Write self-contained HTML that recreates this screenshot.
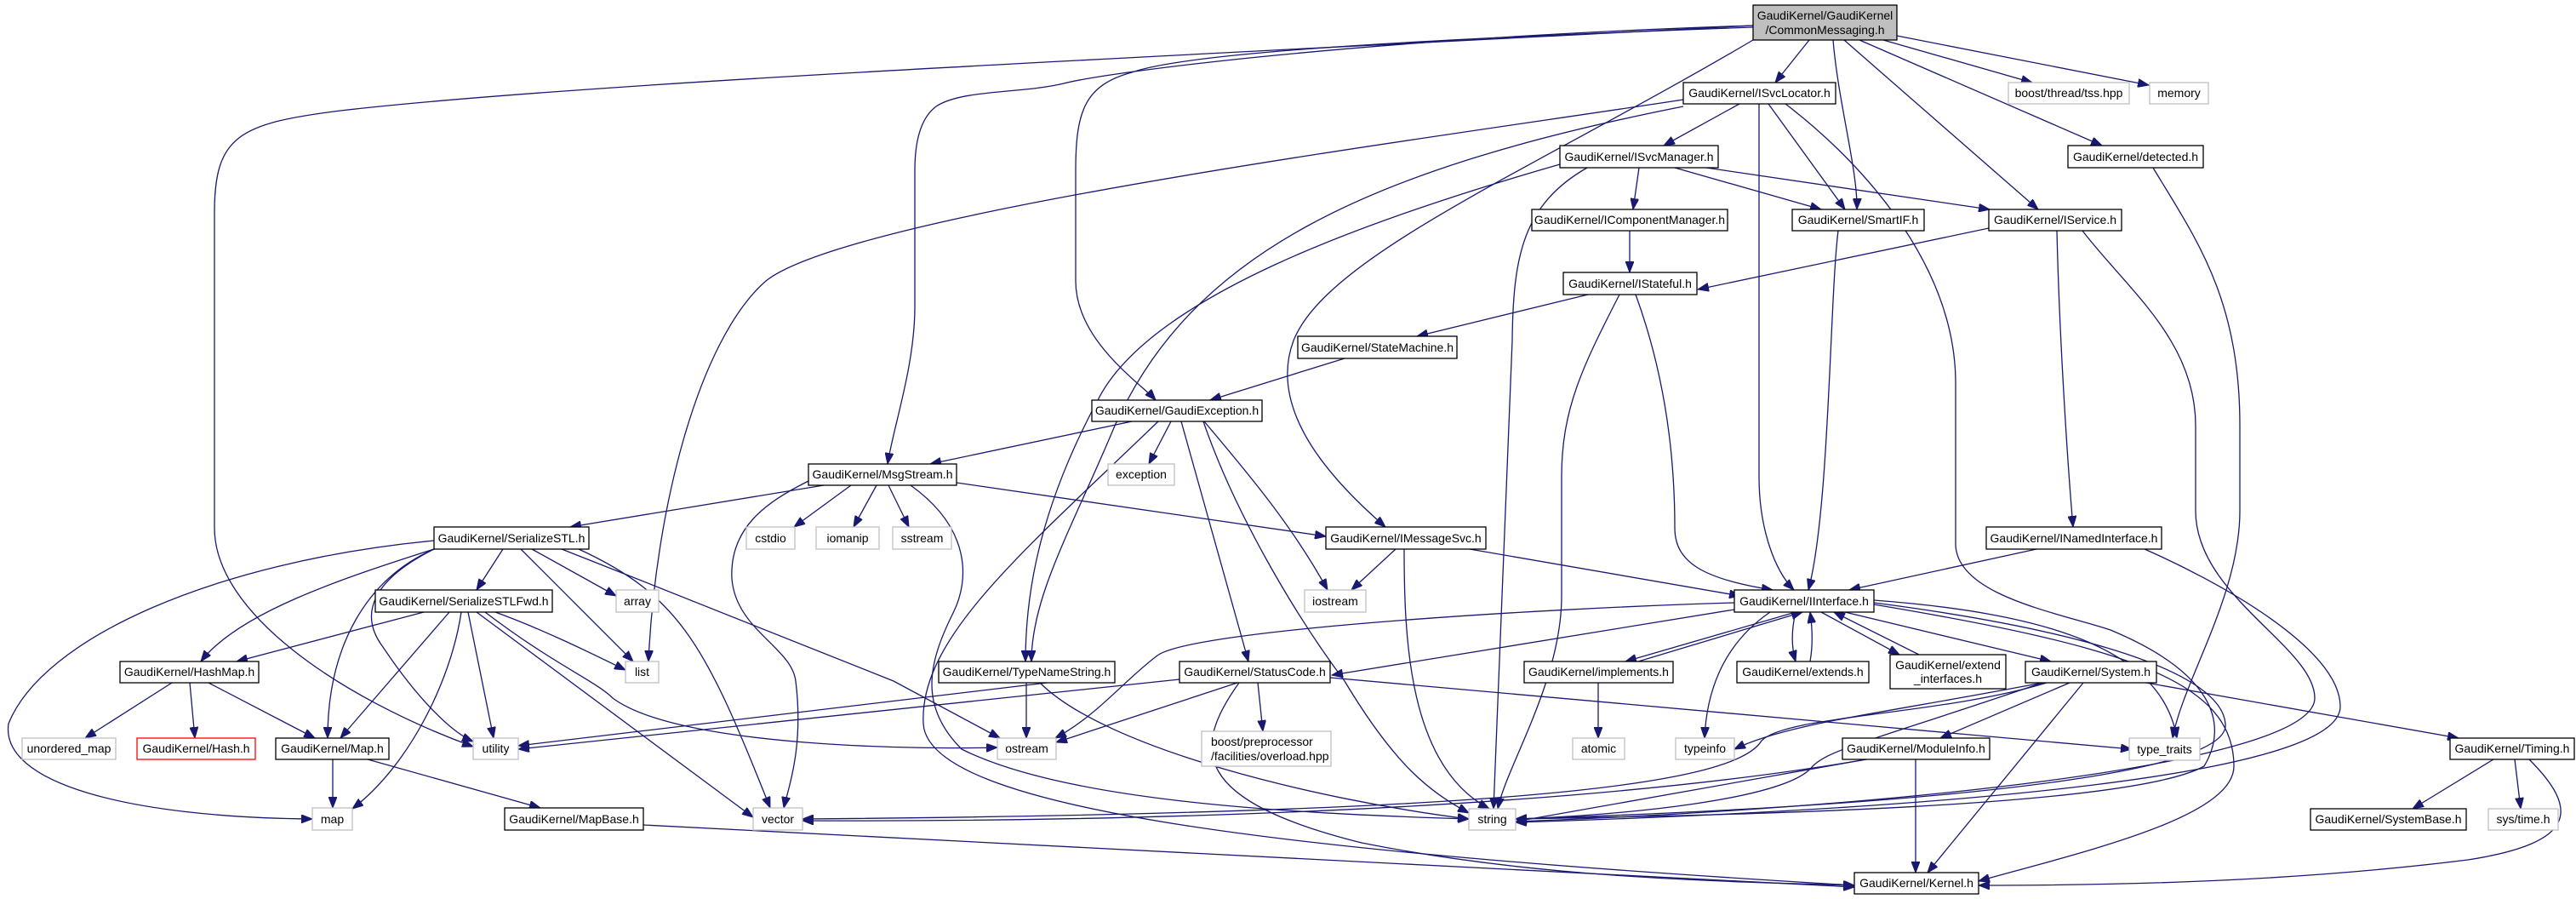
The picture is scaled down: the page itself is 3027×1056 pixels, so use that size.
<!DOCTYPE html>
<html><head><meta charset="utf-8"><style>
html,body{margin:0;padding:0;background:#fff;}
svg{display:block;}
text{font-family:"Liberation Sans",sans-serif;font-size:14px;fill:#000;}
.n{fill:#fff;stroke:#000;stroke-width:1.3;}
.g{fill:#fff;stroke:#bfbfbf;stroke-width:1.3;}
.r{fill:#fff;stroke:#ff0000;stroke-width:1.3;}
.e path{fill:none;stroke:#191970;stroke-width:1.3;marker-end:url(#a);}
</style></head><body>
<svg width="3027" height="1056" viewBox="0 0 3027 1056" xmlns="http://www.w3.org/2000/svg">
<defs><marker id="a" markerUnits="userSpaceOnUse" markerWidth="14" markerHeight="10" refX="13" refY="5" orient="auto"><path d="M0,0 L13,5 L0,10 z" fill="#191970" stroke="#191970"/></marker></defs>
<g class="e">
<path d="M2126,47 L2086,97"/>
<path d="M2154,47 C2160,120 2183,200 2182,246"/>
<path d="M2167,47 L2395,246"/>
<path d="M2185,47 L2470,171"/>
<path d="M2213,47 L2388,97"/>
<path d="M2229,42 L2525,100"/>
<path d="M2060,47 C1800,200 1560,300 1520,400 C1490,480 1560,560 1628,619"/>
<path d="M2060,32 C1700,45 1400,60 1330,85 C1275,100 1264,130 1264,200 L1264,330 C1264,400 1340,450 1358,470"/>
<path d="M2060,30 C1600,45 1300,85 1250,98 C1200,110 1130,105 1100,125 C1080,140 1075,170 1075,200 L1075,360 C1075,430 1050,500 1043,545"/>
<path d="M2060,30 C1500,60 700,95 400,130 C280,145 252,160 252,250 L252,620 C252,720 400,820 556,877"/>
<path d="M2044,122 L1955,171"/>
<path d="M2078,122 L2168,246"/>
<path d="M2067,122 L2067,560 C2067,620 2085,670 2108,693"/>
<path d="M2098,122 C2200,200 2298,320 2298,450 L2298,640 C2300,700 2420,720 2480,740 C2600,790 2620,850 2590,900 C2500,950 2000,958 1781,962"/>
<path d="M1978,117 C1700,160 1000,250 900,330 C820,400 770,600 762,777"/>
<path d="M1978,125 C1600,200 1400,300 1310,500 C1260,620 1212,700 1212,777"/>
<path d="M1833,193 C1600,260 1350,350 1290,470 C1220,600 1205,700 1205,777"/>
<path d="M1926,197 L1919,246"/>
<path d="M1968,197 L2140,246"/>
<path d="M2005,197 L2338,246"/>
<path d="M1865,197 C1790,240 1778,300 1777,400 L1755,950"/>
<path d="M1915,271 L1915,320"/>
<path d="M2160,271 C2150,350 2150,600 2125,693"/>
<path d="M2337,268 L1995,340"/>
<path d="M2417,271 C2420,400 2430,550 2436,619"/>
<path d="M2447,271 C2500,340 2580,400 2580,500 L2580,600 C2580,700 2720,760 2720,820 C2720,900 2200,950 1781,965"/>
<path d="M2530,197 C2580,280 2632,350 2632,500 L2632,600 C2632,700 2565,800 2553,867"/>
<path d="M1866,346 L1665,395"/>
<path d="M1922,346 C1960,450 1968,550 1968,620 C1968,660 2000,680 2083,693"/>
<path d="M1903,346 C1860,430 1835,480 1835,560 L1835,700 C1835,800 1770,900 1760,950"/>
<path d="M1580,421 L1422,470"/>
<path d="M1330,495 L1093,545"/>
<path d="M1376,495 L1350,545"/>
<path d="M1415,495 C1470,560 1520,620 1560,693"/>
<path d="M1414,495 C1450,600 1520,720 1580,800 C1640,900 1680,930 1726,955"/>
<path d="M1388,495 L1467,777"/>
<path d="M1361,495 C1200,650 1080,750 1085,850 C1090,950 1500,1000 2179,1040"/>
<path d="M968,570 L670,619"/>
<path d="M1000,570 L933,619"/>
<path d="M1030,570 L1003,619"/>
<path d="M1044,570 L1068,619"/>
<path d="M1124,567 L1558,630"/>
<path d="M950,565 C900,590 857,620 860,680 C865,740 930,760 935,800 C945,880 925,930 921,949"/>
<path d="M1070,570 C1140,620 1140,680 1120,720 C1090,780 1080,830 1130,880 C1250,940 1500,955 1726,962"/>
<path d="M1640,645 L1588,693"/>
<path d="M1727,645 L2045,700"/>
<path d="M1650,645 C1650,750 1655,900 1750,950"/>
<path d="M2393,645 L2173,693"/>
<path d="M2520,645 C2600,680 2750,760 2750,830 C2750,910 2300,950 1781,966"/>
<path d="M2038,716 L1565,793"/>
<path d="M2038,708 C1800,715 1400,740 1360,770 C1320,800 1290,840 1240,867"/>
<path d="M2110,719 L1910,777"/>
<path d="M1925,777 L2118,719"/>
<path d="M2110,719 C2105,740 2105,760 2110,777"/>
<path d="M2127,777 C2130,760 2130,740 2127,719"/>
<path d="M2140,719 L2232,769"/>
<path d="M2255,769 L2155,719"/>
<path d="M2168,719 L2410,777"/>
<path d="M2080,719 C2020,760 2005,820 2003,867"/>
<path d="M2202,705 C2400,720 2540,760 2558,867"/>
<path d="M2202,708 C2450,740 2610,790 2615,850 C2625,930 2000,955 1781,962"/>
<path d="M2202,710 C2500,760 2625,800 2625,900 C2625,960 2450,1000 2325,1035"/>
<path d="M1878,802 L1878,867"/>
<path d="M2400,802 C2200,840 2100,850 2038,880"/>
<path d="M2432,802 L2280,867"/>
<path d="M2448,802 L2265,1025"/>
<path d="M2522,802 L2889,867"/>
<path d="M2405,802 C2280,840 2100,840 2070,870 C2040,920 1800,955 943,962"/>
<path d="M2400,802 C2200,870 2150,880 2130,900 C2100,940 1900,958 1781,962"/>
<path d="M2251,892 L2251,1025"/>
<path d="M2193,892 L1781,965"/>
<path d="M2193,892 C1800,960 1200,965 943,964"/>
<path d="M1454,802 L1241,872"/>
<path d="M1386,798 L609,880"/>
<path d="M1230,802 L609,876"/>
<path d="M1478,802 L1484,859"/>
<path d="M1456,802 C1400,880 1400,940 1600,990 C1800,1030 2000,1035 2179,1040"/>
<path d="M1563,796 L2505,880"/>
<path d="M1206,802 L1206,867"/>
<path d="M1222,802 C1300,880 1550,940 1726,962"/>
<path d="M2930,892 L2835,950"/>
<path d="M2955,892 L2962,950"/>
<path d="M2972,892 C3030,950 3030,990 2900,1010 C2700,1035 2500,1040 2325,1040"/>
<path d="M756,969 C1500,1010 1900,1030 2179,1042"/>
<path d="M591,645 L560,693"/>
<path d="M625,645 L724,700"/>
<path d="M612,645 L744,777"/>
<path d="M510,645 C400,680 280,720 236,777"/>
<path d="M510,645 C430,680 385,760 385,867"/>
<path d="M510,645 C440,680 420,720 450,760 C490,820 530,860 556,871"/>
<path d="M510,635 C250,660 50,750 10,850 C0,920 150,960 367,962"/>
<path d="M680,645 C800,700 830,760 905,949"/>
<path d="M660,645 C800,700 950,760 1050,800 L1175,867"/>
<path d="M498,719 L278,777"/>
<path d="M528,719 L400,867"/>
<path d="M550,719 L580,867"/>
<path d="M542,719 C530,800 480,900 414,950"/>
<path d="M560,719 L885,960"/>
<path d="M582,719 C640,740 700,770 735,787"/>
<path d="M570,719 C650,780 700,800 720,820 C800,880 1100,880 1172,878"/>
<path d="M202,802 L100,867"/>
<path d="M223,802 L229,867"/>
<path d="M245,802 L370,867"/>
<path d="M391,892 L391,949"/>
<path d="M432,892 L635,949"/>
</g>
<g>
<rect x="2060" y="6" width="169" height="41" fill="#bfbfbf" stroke="#000" stroke-width="1.3"/>
<text x="2144.5" y="23" text-anchor="middle">GaudiKernel/GaudiKernel</text>
<text x="2144.5" y="40" text-anchor="middle">/CommonMessaging.h</text>

<rect class="n" x="1978" y="97" width="179" height="25"/><text x="2067.5" y="114" text-anchor="middle">GaudiKernel/ISvcLocator.h</text>
<rect class="g" x="2360" y="97" width="142" height="25"/><text x="2431" y="114" text-anchor="middle">boost/thread/tss.hpp</text>
<rect class="g" x="2526" y="97" width="69" height="25"/><text x="2560.5" y="114" text-anchor="middle">memory</text>
<rect class="n" x="1833" y="171" width="186" height="26"/><text x="1926" y="189" text-anchor="middle">GaudiKernel/ISvcManager.h</text>
<rect class="n" x="2430" y="171" width="159" height="26"/><text x="2509.5" y="189" text-anchor="middle">GaudiKernel/detected.h</text>
<rect class="n" x="1800" y="246" width="230" height="25"/><text x="1915" y="263" text-anchor="middle">GaudiKernel/IComponentManager.h</text>
<rect class="n" x="2106" y="246" width="155" height="25"/><text x="2183.5" y="263" text-anchor="middle">GaudiKernel/SmartIF.h</text>
<rect class="n" x="2337" y="246" width="156" height="25"/><text x="2415" y="263" text-anchor="middle">GaudiKernel/IService.h</text>
<rect class="n" x="1837" y="320" width="157" height="26"/><text x="1915.5" y="338" text-anchor="middle">GaudiKernel/IStateful.h</text>
<rect class="n" x="1525" y="395" width="187" height="26"/><text x="1618.5" y="413" text-anchor="middle">GaudiKernel/StateMachine.h</text>
<rect class="n" x="1283" y="470" width="200" height="25"/><text x="1383" y="487" text-anchor="middle">GaudiKernel/GaudiException.h</text>
<rect class="n" x="950" y="545" width="174" height="25"/><text x="1037" y="562" text-anchor="middle">GaudiKernel/MsgStream.h</text>
<rect class="g" x="1302" y="545" width="78" height="25"/><text x="1341" y="562" text-anchor="middle">exception</text>
<rect class="g" x="877" y="619" width="57" height="26"/><text x="905.5" y="637" text-anchor="middle">cstdio</text>
<rect class="g" x="959" y="619" width="74" height="26"/><text x="996" y="637" text-anchor="middle">iomanip</text>
<rect class="g" x="1049" y="619" width="69" height="26"/><text x="1083.5" y="637" text-anchor="middle">sstream</text>
<rect class="n" x="1558" y="619" width="188" height="26"/><text x="1652" y="637" text-anchor="middle">GaudiKernel/IMessageSvc.h</text>
<rect class="n" x="2334" y="619" width="206" height="26"/><text x="2437" y="637" text-anchor="middle">GaudiKernel/INamedInterface.h</text>
<rect class="n" x="510" y="619" width="182" height="26"/><text x="601" y="637" text-anchor="middle">GaudiKernel/SerializeSTL.h</text>
<rect class="g" x="1533" y="693" width="72" height="26"/><text x="1569" y="711" text-anchor="middle">iostream</text>
<rect class="n" x="2038" y="693" width="164" height="26"/><text x="2120" y="711" text-anchor="middle">GaudiKernel/IInterface.h</text>
<rect class="n" x="441" y="693" width="208" height="26"/><text x="545" y="711" text-anchor="middle">GaudiKernel/SerializeSTLFwd.h</text>
<rect class="g" x="724" y="693" width="50" height="26"/><text x="749" y="711" text-anchor="middle">array</text>
<rect class="n" x="141" y="777" width="163" height="25"/><text x="222.5" y="794" text-anchor="middle">GaudiKernel/HashMap.h</text>
<rect class="g" x="735" y="777" width="39" height="25"/><text x="754.5" y="794" text-anchor="middle">list</text>
<rect class="n" x="1103" y="777" width="207" height="25"/><text x="1206.5" y="794" text-anchor="middle">GaudiKernel/TypeNameString.h</text>
<rect class="n" x="1386" y="777" width="177" height="25"/><text x="1474.5" y="794" text-anchor="middle">GaudiKernel/StatusCode.h</text>
<rect class="n" x="1791" y="777" width="175" height="25"/><text x="1878.5" y="794" text-anchor="middle">GaudiKernel/implements.h</text>
<rect class="n" x="2041" y="777" width="155" height="25"/><text x="2118.5" y="794" text-anchor="middle">GaudiKernel/extends.h</text>
<rect class="n" x="2221" y="769" width="136" height="40"/><text x="2289" y="786" text-anchor="middle">GaudiKernel/extend</text><text x="2289" y="802" text-anchor="middle">_interfaces.h</text>
<rect class="n" x="2380" y="777" width="154" height="25"/><text x="2457" y="794" text-anchor="middle">GaudiKernel/System.h</text>
<rect class="g" x="26" y="867" width="110" height="25"/><text x="81" y="884" text-anchor="middle">unordered_map</text>
<rect class="r" x="161" y="867" width="139" height="25"/><text x="230.5" y="884" text-anchor="middle">GaudiKernel/Hash.h</text>
<rect class="n" x="324" y="867" width="133" height="25"/><text x="390.5" y="884" text-anchor="middle">GaudiKernel/Map.h</text>
<rect class="g" x="556" y="867" width="53" height="25"/><text x="582.5" y="884" text-anchor="middle">utility</text>
<rect class="g" x="1172" y="867" width="69" height="25"/><text x="1206.5" y="884" text-anchor="middle">ostream</text>
<rect class="g" x="1412" y="859" width="152" height="41"/><text x="1423" y="876">boost/preprocessor</text><text x="1423" y="893">/facilities/overload.hpp</text>
<rect class="g" x="1848" y="867" width="61" height="25"/><text x="1878.5" y="884" text-anchor="middle">atomic</text>
<rect class="g" x="1969" y="867" width="69" height="25"/><text x="2003.5" y="884" text-anchor="middle">typeinfo</text>
<rect class="n" x="2165" y="867" width="173" height="25"/><text x="2251.5" y="884" text-anchor="middle">GaudiKernel/ModuleInfo.h</text>
<rect class="g" x="2502" y="867" width="83" height="26"/><text x="2543.5" y="885" text-anchor="middle">type_traits</text>
<rect class="n" x="2879" y="867" width="146" height="25"/><text x="2952" y="884" text-anchor="middle">GaudiKernel/Timing.h</text>
<rect class="g" x="367" y="949" width="47" height="26"/><text x="390.5" y="967" text-anchor="middle">map</text>
<rect class="n" x="593" y="949" width="163" height="26"/><text x="674.5" y="967" text-anchor="middle">GaudiKernel/MapBase.h</text>
<rect class="g" x="885" y="949" width="58" height="26"/><text x="914" y="967" text-anchor="middle">vector</text>
<rect class="g" x="1726" y="950" width="55" height="25"/><text x="1753.5" y="967" text-anchor="middle">string</text>
<rect class="n" x="2715" y="950" width="183" height="25"/><text x="2806.5" y="967" text-anchor="middle">GaudiKernel/SystemBase.h</text>
<rect class="g" x="2924" y="950" width="82" height="25"/><text x="2965" y="967" text-anchor="middle">sys/time.h</text>
<rect class="n" x="2179" y="1025" width="146" height="25"/><text x="2252" y="1042" text-anchor="middle">GaudiKernel/Kernel.h</text>
</g>
</svg>
</body></html>
